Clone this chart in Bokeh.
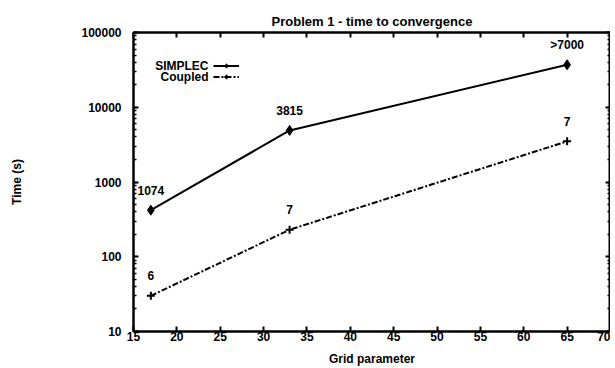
from bokeh.plotting import figure
from bokeh.models import (ColumnDataSource, LinearAxis, LogAxis, FixedTicker,
                          NumeralTickFormatter, CustomJSTickFormatter, Legend, LegendItem, Label)
from bokeh.core.properties import value
from bokeh.embed import file_html
from bokeh.resources import INLINE

grid = [17, 33, 65]
simplec_time = [420, 4900, 37000]
coupled_time = [30, 230, 3500]
simplec_labels = ["1074", "3815", ">7000"]
coupled_labels = ["6", "7", "7"]
x_ticks = [15, 20, 25, 30, 35, 40, 45, 50, 55, 60, 65, 70]
y_ticks = [10, 100, 1000, 10000, 100000]

FONT = "Liberation Sans"
FS = "12px"

p = figure(width=610, height=368, output_backend="svg", toolbar_location=None,
           y_axis_type="log", x_range=(15, 70), y_range=(10, 100000),
           title="Problem 1 - time to convergence",
           min_border_left=133, min_border_right=0, min_border_top=32, min_border_bottom=35)
p.title.align = "center"
p.title.text_font = FONT
p.title.text_font_size = "13px"
p.title.text_font_style = "bold"
p.title.text_color = "black"
p.title.offset = 0
p.title.standoff = 8

p.grid.visible = False
p.outline_line_color = "black"
p.outline_line_width = 2
p.background_fill_color = "white"
p.border_fill_color = "white"

empty_fmt = CustomJSTickFormatter(code="return ''")

def style_axis(ax, labels=True):
    ax.axis_line_width = 2
    ax.axis_line_color = "black"
    ax.major_tick_in = 5
    ax.major_tick_out = 0
    ax.major_tick_line_width = 2
    ax.minor_tick_in = 3
    ax.minor_tick_out = 0
    ax.minor_tick_line_width = 1.5
    ax.major_label_text_font = FONT
    ax.major_label_text_font_style = "bold"
    ax.major_label_text_color = "black"
    ax.major_label_text_font_size = FS
    if not labels:
        ax.formatter = empty_fmt
        ax.major_label_standoff = 0

xa = p.xaxis[0]
xa.ticker = FixedTicker(ticks=x_ticks)
style_axis(xa)
xa.major_label_standoff = 0
xa.minor_tick_line_color = None
xa.axis_label = "Grid parameter"
xa.axis_label_text_font = FONT
xa.axis_label_text_font_style = "bold"
xa.axis_label_text_font_size = FS
xa.axis_label_text_color = "black"
xa.axis_label_standoff = 8

ya = p.yaxis[0]
ya.ticker.num_minor_ticks = 10
ya.formatter = NumeralTickFormatter(format="0")
style_axis(ya)
ya.major_label_standoff = 12
ya.axis_label = "Time (s)"
ya.axis_label_text_font = FONT
ya.axis_label_text_font_style = "bold"
ya.axis_label_text_font_size = FS
ya.axis_label_text_color = "black"
ya.axis_label_standoff = 54

top = LinearAxis(ticker=FixedTicker(ticks=x_ticks))
style_axis(top, labels=False)
top.minor_tick_line_color = None
p.add_layout(top, "above")

right = LogAxis()
right.ticker.num_minor_ticks = 10
style_axis(right, labels=False)
p.add_layout(right, "right")

s1 = ColumnDataSource(dict(x=grid, y=simplec_time, t=simplec_labels))
s2 = ColumnDataSource(dict(x=grid, y=coupled_time, t=coupled_labels))

l1 = p.line("x", "y", source=s1, line_color="black", line_width=2)
m1 = p.scatter("x", "y", source=s1, marker="diamond", size=10, color="black")
l2 = p.line("x", "y", source=s2, line_color="black", line_width=2, line_dash="6 2 2 2")
m2 = p.scatter("x", "y", source=s2, marker="cross", size=8, line_color="black", line_width=2)

for src in (s1, s2):
    p.text("x", "y", text="t", source=src, text_font=value(FONT), text_font_style="bold",
           text_font_size=FS, text_align="center", text_baseline="middle",
           y_offset=-20, color="black")

legend = Legend(items=[LegendItem(label="SIMPLEC", renderers=[l1, m1]),
                       LegendItem(label="Coupled", renderers=[l2, m2])],
                location=(80, 249), glyph_width=26, glyph_height=11, label_height=11,
                label_width=0, spacing=0, padding=0, margin=0,
                border_line_color=None, background_fill_alpha=0,
                label_text_alpha=0, label_text_font_size="1px", label_standoff=0)
p.add_layout(legend)

for txt, yy in (("SIMPLEC", 266), ("Coupled", 255)):
    p.add_layout(Label(x=75, y=yy, x_units="screen", y_units="screen", text=txt,
                       text_align="right", text_baseline="middle", text_font=FONT,
                       text_font_style="bold", text_font_size=FS, text_color="black"))

open("out.html", "w").write(file_html(p, INLINE))
